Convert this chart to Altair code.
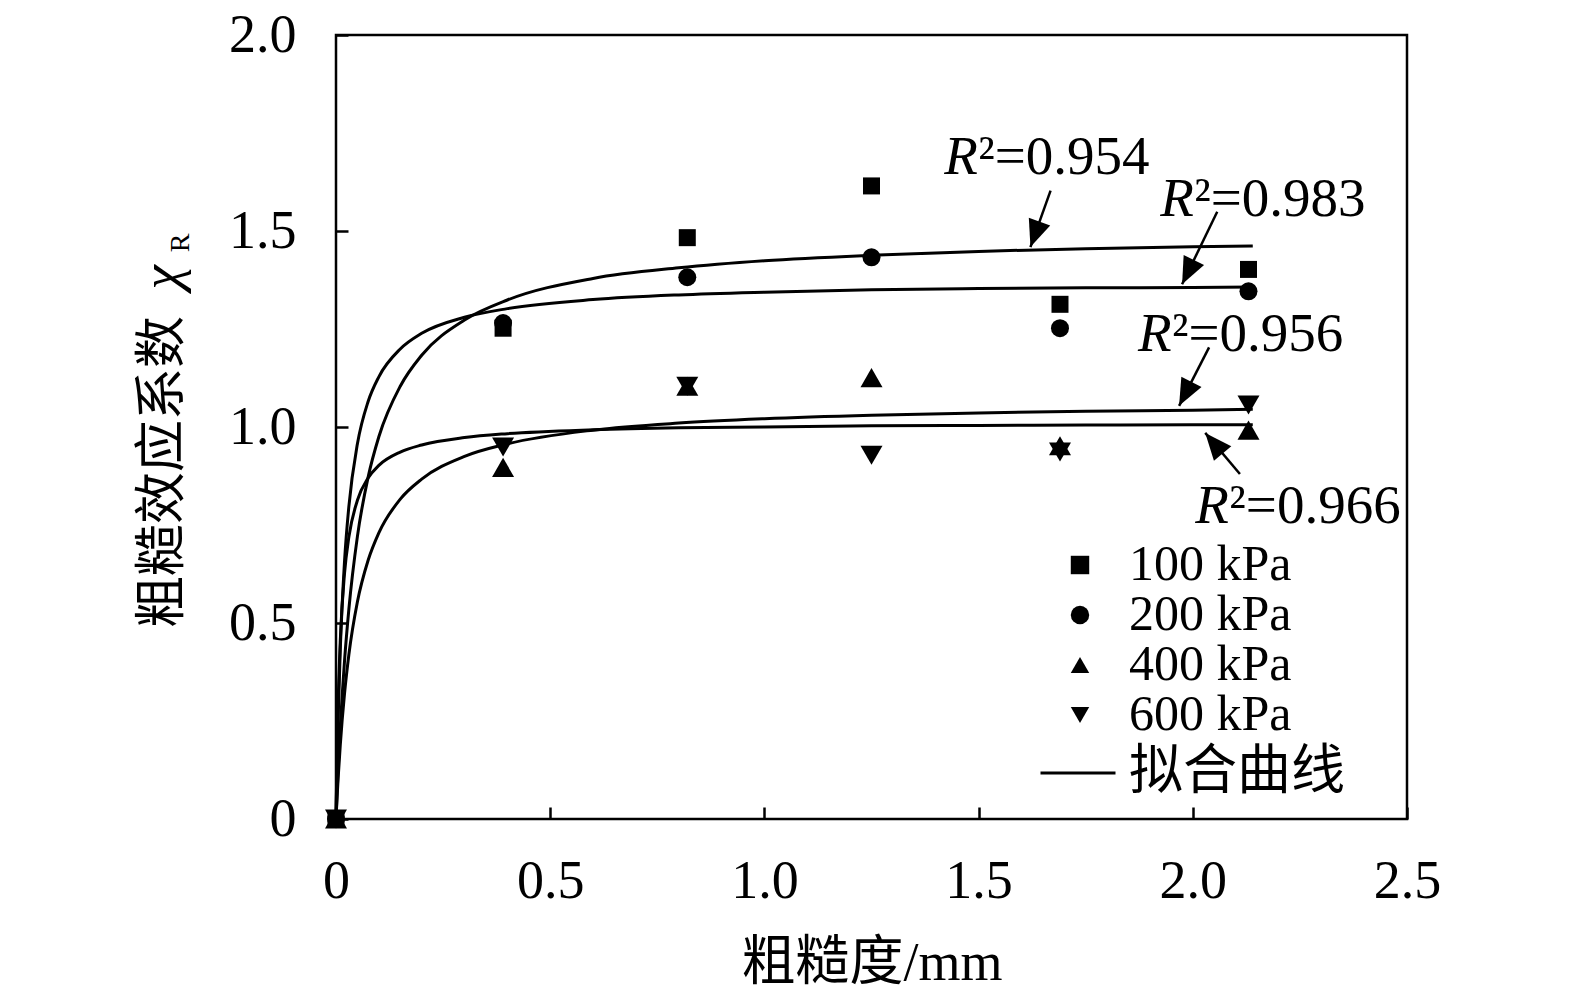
import math
import altair as alt
import pandas as pd

# ---------------- data ----------------
rough = [0.0, 0.39, 0.82, 1.25, 1.69, 2.13]
chi_100 = [0.0, 1.252, 1.483, 1.615, 1.313, 1.402]
chi_200 = [0.0, 1.265, 1.382, 1.433, 1.252, 1.346]
chi_400 = [0.0, 0.897, 1.104, 1.126, 0.952, 0.992]
chi_600 = [0.0, 0.949, 1.104, 0.928, 0.936, 1.056]
series_names = ["100 kPa", "200 kPa", "400 kPa", "600 kPa"]
series_shapes = ["square", "circle", "triangle-up", "triangle-down"]
series_sizes = [289, 324, 484, 484]

fit_x = [0, 0.0025, 0.005, 0.01, 0.02, 0.03, 0.05, 0.075, 0.1, 0.15, 0.2,
         0.3, 0.4, 0.6, 0.8, 1.0, 1.25, 1.5, 1.75, 2.0, 2.14]
fit_954 = [0, 0.066, 0.127, 0.234, 0.405, 0.535, 0.721, 0.872, 0.975, 1.104, 1.183,
           1.273, 1.324, 1.379, 1.406, 1.424, 1.438, 1.448, 1.455, 1.460, 1.462]
fit_983 = [0, 0.142, 0.257, 0.433, 0.659, 0.797, 0.957, 1.065, 1.128, 1.199, 1.239,
           1.280, 1.302, 1.325, 1.337, 1.344, 1.350, 1.353, 1.355, 1.356, 1.357]
fit_956 = [0, 0.055, 0.104, 0.189, 0.321, 0.419, 0.554, 0.660, 0.730, 0.816, 0.867,
           0.925, 0.957, 0.992, 1.010, 1.021, 1.030, 1.036, 1.040, 1.043, 1.045]
fit_966 = [0, 0.172, 0.293, 0.455, 0.628, 0.719, 0.813, 0.870, 0.902, 0.936, 0.954,
           0.973, 0.983, 0.993, 0.998, 1.000, 1.003, 1.004, 1.005, 1.006, 1.006]
fit_names = ["0.954", "0.983", "0.956", "0.966"]

r2_labels = ["0.954", "0.983", "0.956", "0.966"]
r2_x = [1.420, 1.924, 1.872, 2.006]
r2_y = [1.646, 1.538, 1.195, 0.756]
arrow_tail_x = [1.668, 2.057, 2.038, 2.110]
arrow_tail_y = [1.603, 1.549, 1.203, 0.880]
arrow_tip_x = [1.621, 1.975, 1.968, 2.029]
arrow_tip_y = [1.459, 1.364, 1.054, 0.985]

x_ticks = [0, 0.5, 1.0, 1.5, 2.0, 2.5]
y_ticks = [0, 0.5, 1.0, 1.5, 2.0]
x_title = "粗糙度/mm"
y_title_main = "粗糙效应系数"
y_title_sym = "χ"
y_title_sub = "R"
fit_legend_label = "拟合曲线"

# ---------------- layout constants ----------------
W, H = 1071, 784
X_MAX, Y_MAX = 2.5, 2.0
SERIF = "Liberation Serif"
CJK = "Noto Sans CJK SC"
MIX = "Liberation Serif, 'Noto Sans CJK SC'"

# ---------------- tables ----------------
vals = [chi_100, chi_200, chi_400, chi_600]
pts = pd.DataFrame([
    {"x": xv, "y": yv, "series": s, "sz": sz}
    for s, sz, ys_ in zip(series_names, series_sizes, vals)
    for xv, yv in zip(rough, ys_)
])

fits_all = [fit_954, fit_983, fit_956, fit_966]
fit_df = pd.DataFrame([
    {"x": xv, "y": yv, "curve": name, "fit": fit_legend_label}
    for name, fy in zip(fit_names, fits_all)
    for xv, yv in zip(fit_x, fy)
])

px_x = W / X_MAX
px_y = H / Y_MAX
arrows = []
for tx, ty, hx, hy in zip(arrow_tail_x, arrow_tail_y, arrow_tip_x, arrow_tip_y):
    dx = (hx - tx) * px_x
    dy = -(hy - ty) * px_y
    ang = math.degrees(math.atan2(dx, -dy)) % 360
    arrows.append({"tx": tx, "ty": ty, "hx": hx, "hy": hy, "ang": ang})
arr_df = pd.DataFrame(arrows)

r2_df = pd.DataFrame({"x": r2_x, "y": r2_y,
                      "rest": ["²=" + v for v in r2_labels]})

xs = alt.Scale(domain=[0, X_MAX], nice=False, zero=False)
ys = alt.Scale(domain=[0, Y_MAX], nice=False, zero=False)

label_expr = "datum.value == 0 ? '0' : format(datum.value, '.1f')"

x_label_axis = alt.Axis(values=x_ticks, labelExpr=label_expr, ticks=False, tickSize=0,
                        domain=False, grid=False, labelFont=SERIF, labelFontSize=54,
                        labelColor="black", labelPadding=35, labelFlush=False,
                        labelBaseline="top",
                        title=x_title, titleFont=MIX, titleFontSize=54,
                        titleFontWeight="normal", titleColor="black", titlePadding=28)
y_label_axis = alt.Axis(values=y_ticks, labelExpr=label_expr, ticks=False, tickSize=0,
                        domain=False, grid=False, labelFont=SERIF, labelFontSize=54,
                        labelColor="black", labelPadding=40, labelFlush=False,
                        title=None)
x_tick_axis = alt.Axis(orient="top", offset=-H, values=x_ticks, labels=False,
                       domain=False, grid=False, ticks=True, tickSize=12,
                       tickWidth=2.5, tickColor="black", title=None)
y_tick_axis = alt.Axis(orient="right", offset=-W, values=y_ticks, labels=False,
                       domain=False, grid=False, ticks=True, tickSize=12,
                       tickWidth=2.5, tickColor="black", title=None)

shape_legend = alt.Legend(orient="none", legendX=719, legendY=505, title=None,
                          labelFont=SERIF, labelFontSize=50, labelColor="black",
                          symbolFillColor="black", symbolStrokeWidth=0,
                          symbolOpacity=1, symbolSize=340, rowPadding=0,
                          padding=0, labelOffset=24, labelLimit=500)
fit_legend = alt.Legend(orient="none", legendX=703, legendY=699, title=None,
                        symbolType="stroke", symbolSize=5625, symbolStrokeWidth=3,
                        symbolStrokeColor="black", labelFont=CJK, labelFontSize=54,
                        labelColor="black", labelOffset=12, padding=0, labelLimit=500)

points = alt.Chart(pts).mark_point(filled=True, color="black", opacity=1,
                                   strokeWidth=0).encode(
    x=alt.X("x:Q", scale=xs, axis=x_label_axis),
    y=alt.Y("y:Q", scale=ys, axis=y_label_axis),
    shape=alt.Shape("series:N", scale=alt.Scale(domain=series_names,
                                                range=series_shapes),
                    legend=shape_legend),
    size=alt.Size("sz:Q", scale=None),
)

fits = alt.Chart(fit_df).mark_line(strokeWidth=3, interpolate="monotone").encode(
    x=alt.X("x:Q", scale=xs, axis=x_tick_axis),
    y=alt.Y("y:Q", scale=ys, axis=y_tick_axis),
    color=alt.Color("fit:N", scale=alt.Scale(domain=[fit_legend_label],
                                             range=["black"]),
                    legend=fit_legend),
    detail="curve:N",
)

shafts = alt.Chart(arr_df).mark_rule(strokeWidth=2.5, color="black").encode(
    x=alt.X("tx:Q", scale=xs, axis=None),
    y=alt.Y("ty:Q", scale=ys, axis=None),
    x2="hx:Q", y2="hy:Q",
)

heads = alt.Chart(arr_df).mark_point(filled=True, color="black", opacity=1,
                                     strokeWidth=0, size=2916,
                                     shape="M0,0L0.42,1L-0.42,1Z").encode(
    x=alt.X("hx:Q", scale=xs, axis=None),
    y=alt.Y("hy:Q", scale=ys, axis=None),
    angle=alt.Angle("ang:Q", scale=None),
)

r_italic = alt.Chart(r2_df).mark_text(text="R", font=SERIF, fontSize=55,
                                      fontStyle="italic", align="left",
                                      baseline="alphabetic", color="black").encode(
    x=alt.X("x:Q", scale=xs, axis=None),
    y=alt.Y("y:Q", scale=ys, axis=None),
)
r_rest = alt.Chart(r2_df).mark_text(font=SERIF, fontSize=55, align="left",
                                    baseline="alphabetic", dx=34,
                                    color="black").encode(
    x=alt.X("x:Q", scale=xs, axis=None),
    y=alt.Y("y:Q", scale=ys, axis=None),
    text="rest:N",
)

yt_df = pd.DataFrame({
    "x": [-0.3655, -0.3655, -0.342],
    "y": [0.487, 1.351, 1.446],
    "t": [y_title_main, y_title_sym, y_title_sub],
    "part": ["main", "sym", "sub"],
})
yt_main = alt.Chart(yt_df).transform_filter("datum.part == 'main'").mark_text(
    font=CJK, fontSize=52, angle=270, align="left", baseline="alphabetic",
    color="black").encode(
    x=alt.X("x:Q", scale=xs, axis=None), y=alt.Y("y:Q", scale=ys, axis=None),
    text="t:N")
yt_sym = alt.Chart(yt_df).transform_filter("datum.part == 'sym'").mark_text(
    font=SERIF, fontSize=55, fontStyle="italic", angle=270, align="left",
    baseline="alphabetic", color="black").encode(
    x=alt.X("x:Q", scale=xs, axis=None), y=alt.Y("y:Q", scale=ys, axis=None),
    text="t:N")
yt_sub = alt.Chart(yt_df).transform_filter("datum.part == 'sub'").mark_text(
    font=SERIF, fontSize=28, angle=270, align="left",
    baseline="alphabetic", color="black").encode(
    x=alt.X("x:Q", scale=xs, axis=None), y=alt.Y("y:Q", scale=ys, axis=None),
    text="t:N")

chart = alt.layer(points, fits, shafts, heads, r_italic, r_rest,
                  yt_main, yt_sym, yt_sub).resolve_axis(
    x="independent", y="independent"
).properties(
    width=W, height=H,
    autosize=alt.AutoSizeParams(type="none"),
    padding={"left": 328, "top": 27, "right": 150, "bottom": 180},
    background="white",
).configure_view(stroke="black", strokeWidth=2.5)

chart.save("out.html", embed_options={"renderer": "svg", "actions": False})
